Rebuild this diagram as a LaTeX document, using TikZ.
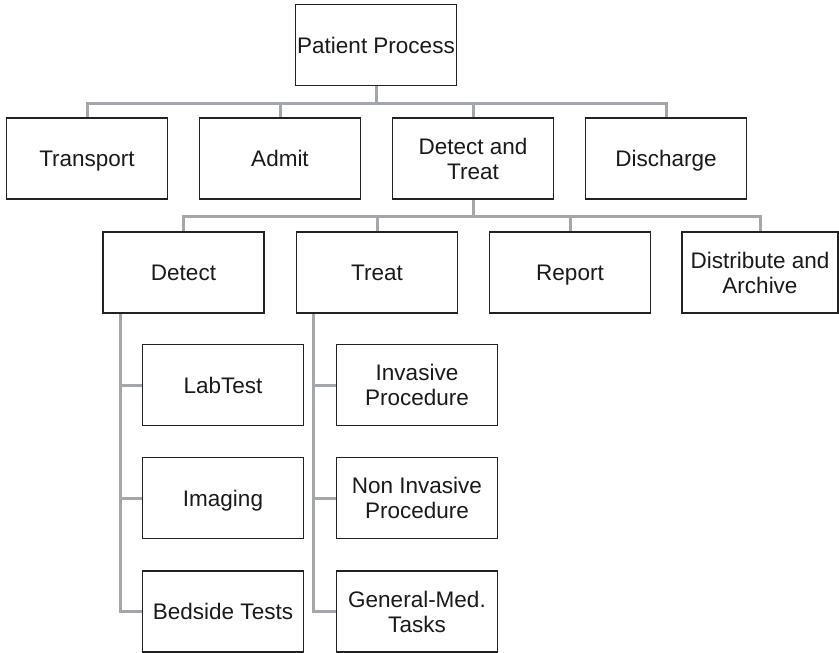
\documentclass[tikz,border=0pt]{standalone}
\usepackage{fontspec}
\setmainfont{Liberation Sans}
\usetikzlibrary{backgrounds}
\definecolor{conncol}{HTML}{A3A7AC}
\definecolor{boxcol}{HTML}{222222}
\definecolor{txtcol}{HTML}{1A1A1A}
\tikzset{
  box/.style={draw=boxcol, line width=1.6pt, fill=white, minimum width=#1, minimum height=81pt,
    inner sep=0pt, align=center, text=txtcol,
    font=\fontsize{22.5pt}{25pt}\selectfont},
  box/.default=161pt,
  one/.style={text height=18.3pt, text depth=2.3pt},
  conn/.style={draw=conncol, line width=3pt}
}
\begin{document}
\begin{tikzpicture}[x=1pt, y=-1pt]
\useasboundingbox (0,0) rectangle (839,653);
% level 0
\node[box,one] (pp) at (376,45) {Patient Process};
% level 1
\node[box,one] (tr) at (87,158.5) {Transport};
\node[box,one] (ad) at (280,158.5) {Admit};
\node[box] (dt) at (473,158.5) {Detect and\\Treat};
\node[box,one] (dc) at (666,158.5) {Discharge};
% level 2
\node[box,one] (de) at (183.5,272.5) {Detect};
\node[box,one] (tt) at (377,272.5) {Treat};
\node[box,one] (rp) at (570,272.5) {Report};
\node[box=156pt] (da) at (760,272.5) {Distribute and\\Archive};
% level 3
\node[box,one] (lt) at (223,385) {LabTest};
\node[box,one] (im) at (223,498) {Imaging};
\node[box,one] (bt) at (223,611.5) {Bedside Tests};
\node[box] (ip) at (417,385) {Invasive\\Procedure};
\node[box] (np) at (417,498) {Non Invasive\\Procedure};
\node[box] (gm) at (417,611.5) {General-Med.\\Tasks};
\begin{scope}[on background layer]
\foreach \c in {tr,ad,dt,dc}{
  \draw[conn] (pp.south) -- (pp.south |- 0,103) -| (\c.north);
}
\foreach \c in {de,tt,rp,da}{
  \draw[conn] (dt.south) -- (dt.south |- 0,216) -| (\c.north);
}
\foreach \c in {lt,im,bt}{
  \draw[conn] ([xshift=18pt]de.south west) |- (\c.west);
}
\foreach \c in {ip,np,gm}{
  \draw[conn] ([xshift=18pt]tt.south west) |- (\c.west);
}
\end{scope}
\end{tikzpicture}
\end{document}
